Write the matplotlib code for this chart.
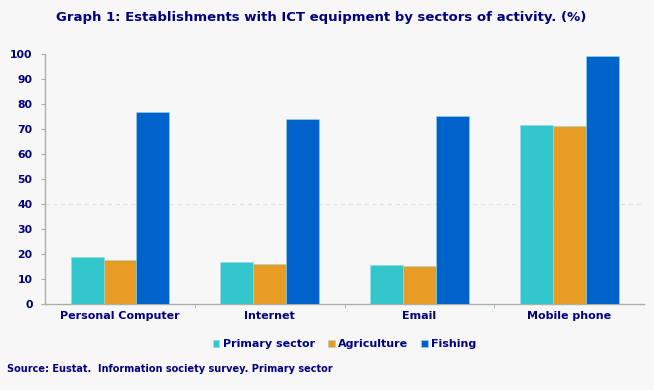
import numpy as np
import matplotlib.pyplot as plt

categories = ["Personal Computer", "Internet", "Email", "Mobile phone"]
primary = [18.8, 16.8, 15.8, 71.7]
agriculture = [17.8, 16.1, 15.2, 71.3]
fishing = [76.9, 74.0, 75.3, 99.2]
series_names = ["Primary sector", "Agriculture", "Fishing"]
colors = ["#33c6cc", "#e89c23", "#0063cc"]
navy = "#000080"

fig = plt.figure(figsize=(6.54, 3.9), dpi=100, facecolor="#f7f7f7")
ax = fig.add_axes([0.069, 0.2205, 0.916, 0.641], facecolor="#f7f7f7")

x = np.arange(len(categories))
w = 0.22
for i, (vals, name, c) in enumerate(zip([primary, agriculture, fishing], series_names, colors)):
    ax.bar(x + (i - 1) * w, vals, w, color=c, edgecolor="#9cd8e2", linewidth=0.4, label=name, zorder=3)

ax.set_xlim(-0.5, 3.5)
ax.set_ylim(0, 100)
ax.set_yticks(range(0, 101, 10))
ax.set_xticks(x)
ax.set_xticklabels(categories)
ax.set_xticks(np.arange(0.5, 3.5, 1), minor=True)
ax.axhline(40, color="#dde2dd", linestyle=(0, (4, 3)), linewidth=0.8, zorder=1)

for s in ["top", "right"]:
    ax.spines[s].set_visible(False)
for s in ["left", "bottom"]:
    ax.spines[s].set_color("#a8b0a8")
    ax.spines[s].set_linewidth(1.0)

ax.tick_params(axis="y", colors="#a8b0a8", length=3, labelcolor=navy, labelsize=7.8, pad=6)
ax.tick_params(axis="x", which="major", length=0, labelcolor=navy, labelsize=8, pad=5)
ax.tick_params(axis="x", which="minor", length=3, color="#a8b0a8")
for lab in ax.get_xticklabels() + ax.get_yticklabels():
    lab.set_fontweight("bold")

fig.text(0.491, 0.955, "Graph 1: Establishments with ICT equipment by sectors of activity. (%)",
         ha="center", va="center", color=navy, fontsize=9.5, fontweight="bold")

leg = fig.legend(loc="center", bbox_to_anchor=(0.527, 0.118), ncol=3, frameon=False,
                 handlelength=0.6, handleheight=0.6, handletextpad=0.3, columnspacing=1.2,
                 prop={"size": 8, "weight": "bold"})
for t in leg.get_texts():
    t.set_color(navy)

fig.text(0.011, 0.053, "Source: Eustat.  Information society survey. Primary sector",
         ha="left", va="center", color=navy, fontsize=7, fontweight="bold")

fig.savefig("out.png", dpi=100, facecolor=fig.get_facecolor())
